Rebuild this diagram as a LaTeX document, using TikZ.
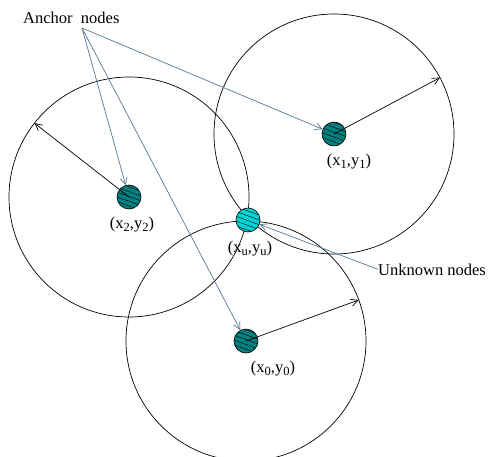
\documentclass[tikz,border=0pt]{standalone}
\usepackage{fontspec}
\setmainfont{Liberation Serif}
\usepackage{tikz}
\usetikzlibrary{arrows.meta,calc,positioning,patterns.meta}
\definecolor{anchorteal}{RGB}{0,128,128}
\definecolor{unknowncyan}{RGB}{0,212,212}
\definecolor{pointergray}{RGB}{88,118,148}
\newcommand{\lowidx}[1]{\raisebox{-0.35ex}{\fontsize{12.5}{13}\selectfont #1}}

\begin{document}
\begin{tikzpicture}[x=1pt,y=-1pt,
    every node/.style={font=\fontsize{16.5}{19}\selectfont},
    hatched/.style={circle,draw,line width=0.6pt,minimum size=24pt,inner sep=0pt,
      pattern={Lines[angle=-20,distance=4.5pt,line width=0.45pt]},pattern color=black},
    anchornode/.style={hatched,preaction={fill=anchorteal}},
    unknownnode/.style={hatched,preaction={fill=unknowncyan}},
    rangecircle/.style={line width=0.7pt},
    radiusarrow/.style={line width=0.7pt,-{Straight Barb[length=7pt,width=7pt]}},
    pointer/.style={pointergray,line width=0.7pt,-{Straight Barb[length=7pt,width=7pt]}}]
  \useasboundingbox (0,0) rectangle (488,456);
  % Position the anchors and the unknown node
  \coordinate (c1) at (334,134);
  \coordinate (c2) at (129,197);
  \coordinate (c0) at (246,341);
  \coordinate (cu) at (248,220);
  % Draw the range circles round the anchors
  \draw[rangecircle] (c1) circle (120);
  \draw[rangecircle] (c2) circle (120);
  \draw[rangecircle] (c0) circle (120);
  % Draw the anchor nodes and the unknown node
  \node[anchornode] (n1) at (c1) {};
  \node[anchornode] (n2) at (c2) {};
  \node[anchornode] (n0) at (c0) {};
  \node[unknownnode] (nu) at (cu) {};
  \node at (349,162) (l1) {(x\lowidx{1},y\lowidx{1})};
  \node at (132,225) (l2) {(x\lowidx{2},y\lowidx{2})};
  \node at (273,369) (l0) {(x\lowidx{0},y\lowidx{0})};
  \node at (250,249) (lu) {(x\lowidx{u},y\lowidx{u})};
  % Radius of each circle
  \coordinate (r1) at ($(c1)+(-28:120)$);
  \coordinate (r2) at ($(c2)+(-142:120)$);
  \coordinate (r0) at ($(c0)+(-20:120)$);
  \draw[radiusarrow] (n1.center) -- (r1);
  \draw[radiusarrow] (n2.center) -- (r2);
  \draw[radiusarrow] (n0.center) -- (r0);
  % Label the anchors
  \node[anchor=base west,inner sep=0pt] (anchortext) at (23,23) {Anchor~ nodes};
  \coordinate (fan) at (82,28);
  \draw[pointer] (fan) -- (n1);
  \draw[pointer] (fan) -- (n2);
  \draw[pointer] (fan) -- (n0);
  % Label the unknown node
  \node[anchor=base west,inner sep=0pt] (unknowntext) at (378,275) {Unknown nodes};
  \draw[pointer] (unknowntext.west) -- (nu);
\end{tikzpicture}
\end{document}
